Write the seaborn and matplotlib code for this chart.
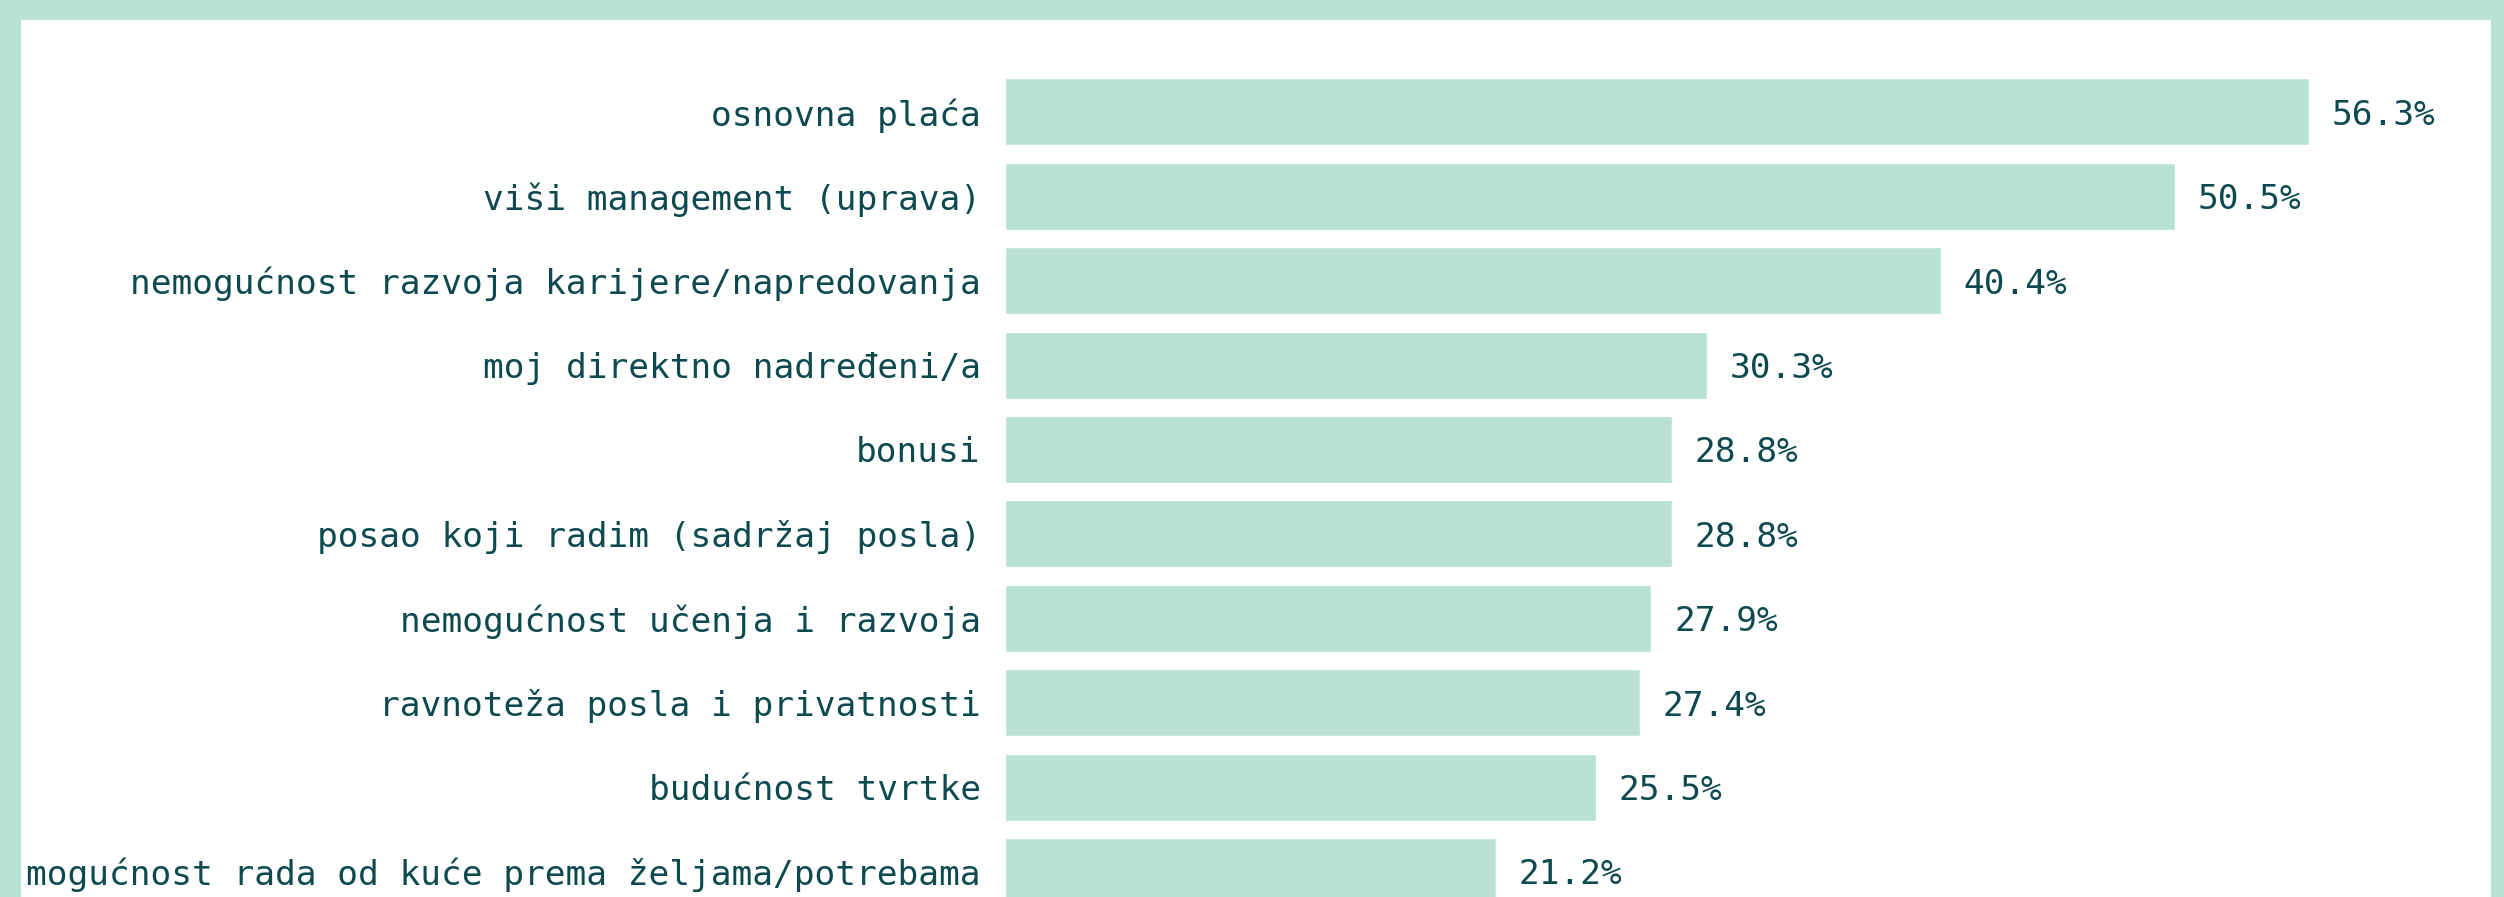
import matplotlib
matplotlib.use("Agg")
import matplotlib.pyplot as plt
import seaborn as sns
from matplotlib.patches import Rectangle

# podaci
razlozi = [
    "osnovna plaća",
    "viši management (uprava)",
    "nemogućnost razvoja karijere/napredovanja",
    "moj direktno nadređeni/a",
    "bonusi",
    "posao koji radim (sadržaj posla)",
    "nemogućnost učenja i razvoja",
    "ravnoteža posla i privatnosti",
    "budućnost tvrtke",
    "mogućnost rada od kuće prema željama/potrebama",
]
postotci = [56.3, 50.5, 40.4, 30.3, 28.8, 28.8, 27.9, 27.4, 25.5, 21.2]

boja = "#b9e2d5"
tekst = "#0d4a4f"
velicina = 24.8

sns.set_theme(style="white")
plt.rcParams["font.family"] = ["DejaVu Sans Mono"]

W, H = 2504, 897
fig = plt.figure(figsize=(W / 100, H / 100), dpi=100)
fig.patch.set_facecolor(boja)

# bijeli unutarnji okvir
fig.add_artist(Rectangle((21 / W, 0), (2491 - 21) / W, (H - 20) / H,
                         transform=fig.transFigure, facecolor="white",
                         edgecolor="none", zorder=0))

ax = fig.add_axes([1005 / W, 0, (2491 - 1005) / W, (H - 20) / H])
ax.set_facecolor("none")

sns.barplot(x=postotci, y=razlozi, color=boja, saturation=1, width=0.794,
            orient="h", ax=ax)

ax.set_xlim(0, (2491 - 1005) / 23.16)
ax.set_ylim(9.303, -1.088)

for c in ax.containers:
    oznake = ax.bar_label(c, labels=[f"{v:.1f}%" for v in postotci],
                          padding=16.5, fontsize=velicina, color=tekst)
    for t in oznake:
        t.set_va("center_baseline")

ax.tick_params(axis="y", length=0, pad=17.5, labelsize=velicina, labelcolor=tekst)
ax.set_xticks([])
ax.set_xlabel("")
ax.set_ylabel("")
sns.despine(ax=ax, left=True, bottom=True)

fig.savefig("out.png", dpi=100)
